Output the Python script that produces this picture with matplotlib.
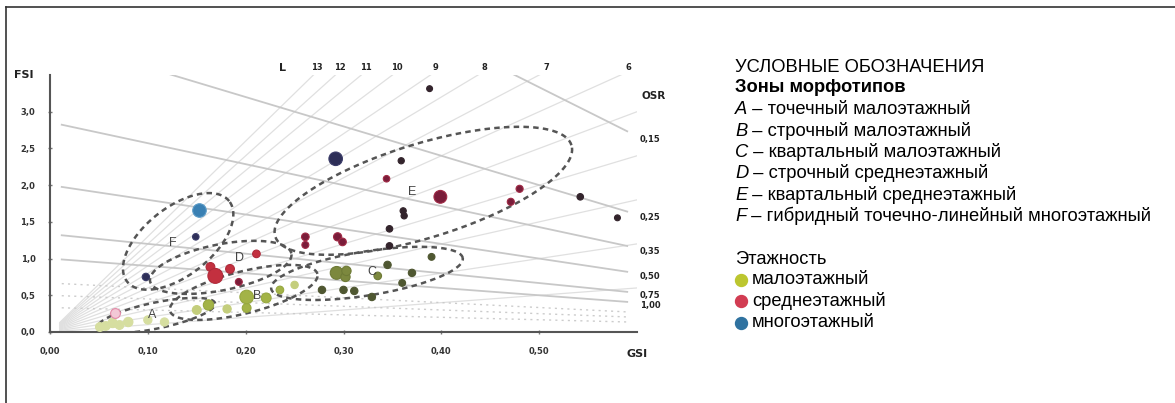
import numpy as np
import matplotlib.pyplot as plt
from matplotlib.lines import Line2D

plt.rcParams['font.family'] = ['Liberation Sans', 'DejaVu Sans']

# --- axes ---
gsi_ticks = [0.0, 0.1, 0.2, 0.3, 0.4, 0.5]
gsi_labels = ['0,00', '0,10', '0,20', '0,30', '0,40', '0,50']
fsi_ticks = [0.0, 0.5, 1.0, 1.5, 2.0, 2.5, 3.0]
fsi_labels = ['0,0', '0,5', '1,0', '1,5', '2,0', '2,5', '3,0']

# --- spacemate lines ---
l_values = list(range(1, 14))             # FSI = L * GSI
l_labelled = [13, 12, 11, 10, 9, 8, 7, 6]
osr_solid = [0.15, 0.25, 0.35, 0.50, 0.75, 1.00]   # FSI = (1 - GSI) / OSR
osr_labels = ['0,15', '0,25', '0,35', '0,50', '0,75', '1,00']
osr_dotted = [1.5, 2.0, 3.0]

# --- points (GSI, FSI, marker size) ---
low_pale_gsi = [0.051, 0.057, 0.064, 0.071, 0.080, 0.100, 0.117]
low_pale_fsi = [0.068, 0.082, 0.123, 0.095, 0.136, 0.164, 0.136]
low_pale_size = [40, 40, 45, 40, 45, 35, 35]

low_light_gsi = [0.150, 0.181, 0.250]
low_light_fsi = [0.300, 0.314, 0.641]
low_light_size = [40, 35, 28]

low_gsi = [0.162, 0.201, 0.201, 0.221, 0.235]
low_fsi = [0.368, 0.477, 0.327, 0.464, 0.573]
low_size = [55, 95, 40, 50, 30]

low_olive_gsi = [0.293, 0.302, 0.303, 0.335]
low_olive_fsi = [0.805, 0.750, 0.832, 0.764]
low_olive_size = [85, 45, 45, 30]

low_dark_gsi = [0.345, 0.390, 0.370, 0.360, 0.278, 0.300, 0.311, 0.329]
low_dark_fsi = [0.914, 1.023, 0.805, 0.668, 0.573, 0.573, 0.559, 0.477]
low_dark_size = [28, 24, 28, 24, 28, 28, 28, 28]

mid_gsi = [0.164, 0.169, 0.184, 0.211]
mid_fsi = [0.886, 0.764, 0.859, 1.064]
mid_size = [40, 115, 40, 30]

mid_dark_gsi = [0.193, 0.261, 0.261, 0.294, 0.299, 0.344, 0.399, 0.480, 0.471]
mid_dark_fsi = [0.682, 1.296, 1.186, 1.296, 1.227, 2.087, 1.841, 1.950, 1.773]
mid_dark_size = [25, 30, 25, 35, 30, 22, 85, 26, 26]

mid_black_gsi = [0.347, 0.347, 0.359, 0.361, 0.362, 0.542, 0.580, 0.388]
mid_black_fsi = [1.405, 1.173, 2.332, 1.650, 1.582, 1.841, 1.555, 3.314]
mid_black_size = [22, 22, 20, 20, 20, 22, 18, 18]

mid_pink_gsi = [0.066]
mid_pink_fsi = [0.259]
mid_pink_size = [50]

high_gsi = [0.152]
high_fsi = [1.664]
high_size = [95]

high_dark_gsi = [0.292, 0.149, 0.098]
high_dark_fsi = [2.359, 1.296, 0.750]
high_dark_size = [95, 22, 28]

# --- zones: centre (GSI, FSI), semi-axes in px, tilt in degrees ---
zone_letters = ['A', 'B', 'C', 'D', 'E', 'F']
zone_centres = [(0.1087, 0.225), (0.198, 0.539), (0.324, 0.798),
                (0.1745, 0.880), (0.3816, 1.923), (0.131, 1.234)]
zone_axes = [(60, 13), (76, 21), (97, 22), (72, 23), (155, 47), (65, 34)]
zone_tilt = [11.7, 14.1, 9.1, 11.2, 17.1, 38.3]
zone_label_pos = [(0.104, 0.23), (0.212, 0.49), (0.329, 0.82),
                  (0.194, 1.01), (0.370, 1.90), (0.1255, 1.21)]

# --- legend texts ---
legend_title = 'УСЛОВНЫЕ ОБОЗНАЧЕНИЯ'
legend_zones_title = 'Зоны морфотипов'
legend_zones = ['точечный малоэтажный', 'строчный малоэтажный',
                'квартальный малоэтажный', 'строчный среднеэтажный',
                'квартальный среднеэтажный',
                'гибридный точечно-линейный многоэтажный']
legend_floors_title = 'Этажность'
legend_floors = ['малоэтажный', 'среднеэтажный', 'многоэтажный']
legend_floor_colors = ['#bcc62f', '#d23c52', '#2f72a0']

xmin, xmax, ymin, ymax = 0.0, 0.6, 0.0, 3.5

fig = plt.figure(figsize=(11.75, 4.03), dpi=100)
ax = fig.add_axes([50 / 1175, 71 / 403, 587 / 1175, 257 / 403])
ax.set_xlim(xmin, xmax)
ax.set_ylim(ymin, ymax)

# background lines
g = np.linspace(0.01, 0.6, 200)
for L in l_values:
    ax.plot(g, L * g, color='#e0e0e0', lw=0.9, zorder=1)
g2 = np.linspace(0.012, 0.59, 200)
for osr in osr_solid:
    ax.plot(g2, (1 - g2) / osr, color='#c8c8c8', lw=1.3, zorder=1)
for osr in osr_dotted:
    ax.plot(g2, (1 - g2) / osr, color='#cccccc', lw=1.0, ls=(0, (1.5, 3)), zorder=1)

for L in l_labelled:
    ax.text(3.55 / L, 3.6, str(L), ha='center', va='center', fontsize=6,
            fontweight='bold', color='#222222', family='DejaVu Sans')
ax.text(0.238, 3.6, 'L', ha='center', va='center', fontsize=8,
        fontweight='bold', color='#222222', family='DejaVu Sans')
for osr, lab in zip(osr_solid, osr_labels):
    ax.text(0.603, (1 - 0.6) / osr - 0.04, lab, ha='left', va='center', fontsize=6,
            fontweight='bold', color='#222222', family='DejaVu Sans')
ax.text(0.617, 3.22, 'OSR', ha='center', va='center', fontsize=7.5,
        fontweight='bold', color='#222222', family='DejaVu Sans')

# zones
pos = ax.get_position()
W, H = fig.get_size_inches() * fig.dpi
sx = pos.width * W / (xmax - xmin)
sy = pos.height * H / (ymax - ymin)
t = np.linspace(0, 2 * np.pi, 240)
for (cx, cy), (a, b), ang in zip(zone_centres, zone_axes, zone_tilt):
    th = np.radians(ang)
    u, v = a * np.cos(t), b * np.sin(t)
    px = u * np.cos(th) - v * np.sin(th)
    py = u * np.sin(th) + v * np.cos(th)
    ax.plot(cx + px / sx, cy + py / sy, color='#555555', lw=1.8,
            dashes=(2.2, 1.7), zorder=3)
for letter, (lx, ly) in zip(zone_letters, zone_label_pos):
    ax.text(lx, ly, letter, ha='center', va='center', fontsize=9,
            color='#444444', zorder=5)

# points
groups = [
    (low_pale_gsi, low_pale_fsi, low_pale_size, '#d6dea0', '#d6dea0'),
    (low_light_gsi, low_light_fsi, low_light_size, '#c4ce7c', '#c4ce7c'),
    (low_gsi, low_fsi, low_size, '#a3b347', '#97a840'),
    (low_olive_gsi, low_olive_fsi, low_olive_size, '#7c883e', '#6e7a36'),
    (low_dark_gsi, low_dark_fsi, low_dark_size, '#4f5731', '#4f5731'),
    (mid_gsi, mid_fsi, mid_size, '#c3303f', '#b02a3a'),
    (mid_dark_gsi, mid_dark_fsi, mid_dark_size, '#7a1d3a', '#a02a45'),
    (mid_black_gsi, mid_black_fsi, mid_black_size, '#33242c', '#33242c'),
    (mid_pink_gsi, mid_pink_fsi, mid_pink_size, '#f3c8d6', '#e48aa8'),
    (high_gsi, high_fsi, high_size, '#3a80b3', '#5a9ac6'),
    (high_dark_gsi, high_dark_fsi, high_dark_size, '#2e2f58', '#3c3d6a'),
]
for gx, gy, gs, fc, ec in groups:
    ax.scatter(gx, gy, s=gs, color=fc, edgecolors=ec, linewidths=0.8, zorder=4)

# axes styling
for side in ['top', 'right']:
    ax.spines[side].set_visible(False)
for side in ['left', 'bottom']:
    ax.spines[side].set_color('#555555')
    ax.spines[side].set_linewidth(1.5)
ax.set_xticks(gsi_ticks)
ax.set_xticklabels(gsi_labels)
ax.set_yticks(fsi_ticks)
ax.set_yticklabels(fsi_labels)
ax.tick_params(length=3, width=1, color='#777777', direction='inout',
               labelsize=6, labelcolor='#333333', pad=9)
for lab in ax.get_xticklabels() + ax.get_yticklabels():
    lab.set_fontweight('bold')
    lab.set_family('DejaVu Sans')
ax.text(0.6, -0.3, 'GSI', ha='center', va='center', fontsize=8,
        fontweight='bold', color='#222222', family='DejaVu Sans')
ax.text(-0.027, 3.5, 'FSI', ha='center', va='center', fontsize=8,
        fontweight='bold', color='#222222', family='DejaVu Sans')

# legend block
x0 = 735 / 1175
step = 21.3
def fy(py):
    return 1 - py / 403

fs = 13.2
fig.text(x0, fy(67), legend_title, fontsize=fs, va='center', ha='left')
fig.text(x0, fy(88), legend_zones_title, fontsize=fs, va='center', ha='left',
         fontweight='bold')
for i, (letter, desc) in enumerate(zip(zone_letters, legend_zones)):
    t_let = fig.text(x0, fy(110 + i * step), letter, fontsize=fs, va='center',
                     ha='left', style='italic')
    ax.annotate(' – ' + desc, xy=(1, 0), xycoords=t_let, va='bottom', ha='left',
                fontsize=fs, annotation_clip=False)
fig.text(x0, fy(259), legend_floors_title, fontsize=fs, va='center', ha='left')
for i, (lab, col) in enumerate(zip(legend_floors, legend_floor_colors)):
    yy = 280 + i * step
    fig.add_artist(Line2D([741 / 1175], [fy(yy)], marker='o', markersize=8.6,
                          color=col, linestyle='none', transform=fig.transFigure))
    fig.text(752 / 1175, fy(yy), lab, fontsize=fs, va='center', ha='left')

# frame
fig.add_artist(Line2D([6 / 1175, 6 / 1175], [0, fy(7)], color='#333333', lw=1.2,
                      transform=fig.transFigure))
fig.add_artist(Line2D([6 / 1175, 1], [fy(7), fy(7)], color='#333333', lw=1.2,
                      transform=fig.transFigure))

fig.savefig('out.png', dpi=100)
